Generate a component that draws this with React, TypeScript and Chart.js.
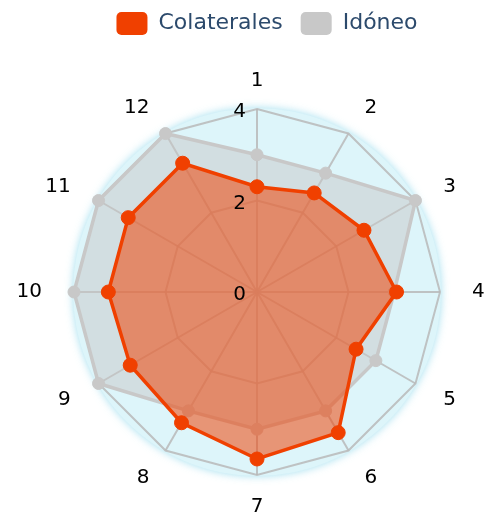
import React, { useEffect, useRef } from "react";
import { Chart, registerables } from "chart.js";

Chart.register(...registerables);

const categories = ["1", "2", "3", "4", "5", "6", "7", "8", "9", "10", "11", "12"];
const colaterales = [2.3, 2.5, 2.7, 3.05, 2.5, 3.55, 3.65, 3.3, 3.2, 3.25, 3.25, 3.25];
const idoneo = [3, 3, 4, 3, 3, 3, 3, 3, 4, 4, 4, 4];
const tickValues = [0, 2, 4];
const seriesNames = ["Colaterales", "Idóneo"];

const FONT = "'DejaVu Sans', sans-serif";

const decorPlugin = {
  id: "decor",
  afterLayout(chart: any) {
    const l = chart.legend;
    if (l) {
      const h = l.height;
      l.top = -6;
      l.bottom = l.top + h;
      const w = l.right - l.left;
      const mid = (l.left + l.right) / 2;
      const d = 267 - mid;
      l.left += d;
      l.right = l.left + w;
    }
  },
  beforeDraw(chart: any) {
    const s = chart.scales.r;
    const ctx = chart.ctx;
    ctx.save();
    ctx.beginPath();
    ctx.arc(s.xCenter, s.yCenter, s.drawingArea + 1, 0, Math.PI * 2);
    ctx.fillStyle = "#ddf5fa";
    ctx.shadowColor = "rgba(140,215,235,0.8)";
    ctx.shadowBlur = 8;
    ctx.fill();
    ctx.restore();
  },
  afterDatasetsDraw(chart: any) {
    const s = chart.scales.r;
    const ctx = chart.ctx;
    ctx.save();
    ctx.fillStyle = "#000";
    ctx.font = `20px ${FONT}`;
    // tick labels
    ctx.textAlign = "right";
    ctx.textBaseline = "middle";
    tickValues.forEach((v) => {
      const d = s.getDistanceFromCenterForValue(v);
      ctx.fillText(String(v), s.xCenter - 11, s.yCenter - d + 3);
    });
    // point labels
    categories.forEach((lab, i) => {
      const n = categories.length;
      if (i === 0) {
        const p = s.getPointPosition(i, 212);
        ctx.textAlign = "center";
        ctx.fillText(lab, p.x, p.y + 1);
        return;
      }
      if (i * 2 === n) {
        const p = s.getPointPosition(i, 214);
        ctx.textAlign = "center";
        ctx.fillText(lab, p.x, p.y + 1);
        return;
      }
      const p = s.getPointPosition(i, 215);
      ctx.textAlign = p.x > s.xCenter ? "left" : "right";
      const off = p.y < s.yCenter ? 2 : 0;
      ctx.fillText(lab, p.x, p.y + off);
    });
    ctx.restore();
  },
};

export default function App() {
  const ref = useRef<HTMLCanvasElement>(null);
  useEffect(() => {
    if (!ref.current) return;
    const chart = new Chart(ref.current, {
      type: "radar",
      data: {
        labels: categories,
        datasets: [
          {
            label: seriesNames[0],
            data: colaterales,
            borderColor: "#f04000",
            backgroundColor: "rgba(238,70,10,0.55)",
            borderWidth: 3.5,
            pointRadius: 7,
            pointBackgroundColor: "#f04000",
            pointBorderColor: "#f04000",
            pointBorderWidth: 1,
            fill: true,
          },
          {
            label: seriesNames[1],
            data: idoneo,
            borderColor: "#c8c8c8",
            backgroundColor: "rgba(200,200,200,0.5)",
            borderWidth: 3.5,
            pointRadius: 6,
            pointBackgroundColor: "#c8c8c8",
            pointBorderColor: "#c8c8c8",
            pointBorderWidth: 1,
            fill: true,
          },
        ],
      },
      options: {
        responsive: false,
        animation: false,
        layout: { padding: { left: 74, right: 48, top: 58, bottom: 39 } },
        plugins: {
          tooltip: { enabled: false },
          legend: {
            position: "top",
            labels: {
              boxWidth: 31,
              boxHeight: 23,
              padding: 18,
              useBorderRadius: true,
              borderRadius: 5,
              color: "#2c4a6c",
              font: { family: FONT, size: 22 },
              generateLabels: (ch: any) => {
                const items = Chart.defaults.plugins.legend.labels.generateLabels(ch);
                return items.map((it: any, i: number) => ({
                  ...it,
                  fillStyle: ch.data.datasets[i].borderColor,
                  strokeStyle: ch.data.datasets[i].borderColor,
                  lineWidth: 0,
                  borderRadius: 5,
                }));
              },
            },
          },
        },
        scales: {
          r: {
            min: 0,
            max: 4,
            ticks: { stepSize: 2, display: false },
            pointLabels: { display: false },
            grid: { color: "rgba(185,185,185,0.85)", lineWidth: 2 },
            angleLines: { color: "rgba(185,185,185,0.85)", lineWidth: 2 },
          },
        },
      },
      plugins: [decorPlugin],
    });
    return () => chart.destroy();
  }, []);
  return (
    <div style={{ position: "absolute", left: 0, top: 0, width: 488, height: 514 }}>
      <canvas ref={ref} width={488} height={514} style={{ display: "block" }} />
    </div>
  );
}
